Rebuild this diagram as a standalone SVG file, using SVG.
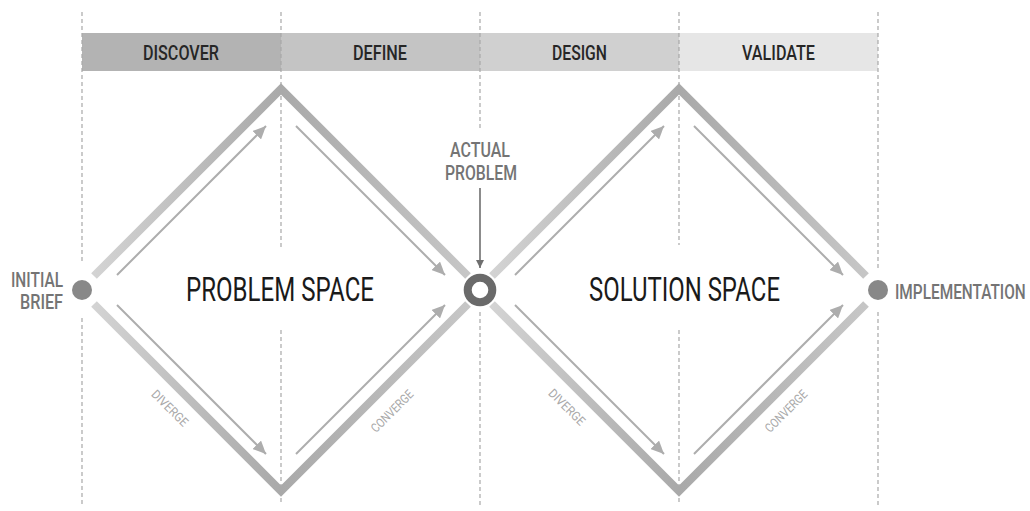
<svg xmlns="http://www.w3.org/2000/svg" width="1030" height="511" viewBox="0 0 1030 511">
<style>
.dash{stroke:#a8a8a8;stroke-width:1.2;stroke-dasharray:4 3;fill:none}
.thick{fill:none;stroke:url(#vg);stroke-width:8;stroke-linejoin:miter;stroke-miterlimit:10}
.thin{stroke:#adadad;stroke-width:2;fill:none;marker-end:url(#ah)}
.hdr{font-family:Roboto,"Liberation Sans",sans-serif;font-weight:500;font-size:19.5px;fill:#262626}
.big{font-family:Roboto,"Liberation Sans",sans-serif;font-weight:400;font-size:33px;fill:#1a1a1a}
.lbl{font-family:Roboto,"Liberation Sans",sans-serif;font-weight:500;font-size:19.5px;fill:#747474}
.sm{font-family:Roboto,"Liberation Sans",sans-serif;font-weight:400;font-size:12.5px;fill:#a8a8a8}
</style>
<defs>
<linearGradient id="vg" x1="0" y1="0" x2="1" y2="0">
<stop offset="0" stop-color="#d3d3d3"/>
<stop offset="0.5" stop-color="#a9a9a9"/>
<stop offset="1" stop-color="#c6c6c6"/>
</linearGradient>
<marker id="ah" markerUnits="userSpaceOnUse" markerWidth="14" markerHeight="12" refX="13" refY="6" orient="auto">
<path d="M0 0 L13 6 L0 12 Z" fill="#adadad"/>
</marker>
<marker id="ah2" markerUnits="userSpaceOnUse" markerWidth="9" markerHeight="8" refX="8" refY="4" orient="auto">
<path d="M0 0 L8 4 L0 8 Z" fill="#6f6f6f"/>
</marker>
</defs>
<g id="header">
<rect x="82" y="33" width="199" height="38" fill="#b3b3b3"/>
<rect x="281" y="33" width="199" height="38" fill="#c4c4c4"/>
<rect x="480" y="33" width="199" height="38" fill="#d0d0d0"/>
<rect x="679" y="33" width="199" height="38" fill="#e6e6e6"/>
<text class="hdr" x="143" y="60" textLength="76" lengthAdjust="spacingAndGlyphs">DISCOVER</text>
<text class="hdr" x="353" y="60" textLength="54" lengthAdjust="spacingAndGlyphs">DEFINE</text>
<text class="hdr" x="552" y="60" textLength="55" lengthAdjust="spacingAndGlyphs">DESIGN</text>
<text class="hdr" x="742" y="60" textLength="73" lengthAdjust="spacingAndGlyphs">VALIDATE</text>
</g>
<g id="gridlines">
<path class="dash" d="M82 12 V262 M82 318 V505 M281 12 V247 M281 330 V505 M480 12 V128 M480 312 V505 M679 12 V245 M679 330 V505 M878 12 V268 M878 312 V505"/>
</g>
<g id="connectors">
<path class="thick" d="M94 276 L281 89 L468 276"/>
<path class="thick" d="M94 304 L281 491 L468 304"/>
<path class="thick" d="M492 276 L679 89 L866 276"/>
<path class="thick" d="M492 304 L679 491 L866 304"/>
<line class="thin" x1="117" y1="275" x2="266" y2="126"/>
<line class="thin" x1="296" y1="126" x2="445" y2="275"/>
<line class="thin" x1="117" y1="305" x2="266" y2="454"/>
<line class="thin" x1="296" y1="454" x2="445" y2="305"/>
<line class="thin" x1="515" y1="275" x2="664" y2="126"/>
<line class="thin" x1="694" y1="126" x2="843" y2="275"/>
<line class="thin" x1="515" y1="305" x2="664" y2="454"/>
<line class="thin" x1="694" y1="454" x2="843" y2="305"/>
<line x1="480" y1="188" x2="480" y2="268" stroke="#6f6f6f" stroke-width="1.6" marker-end="url(#ah2)"/>
<text class="sm" transform="translate(170 408) rotate(45)" x="0" y="4.5" text-anchor="middle" textLength="46" lengthAdjust="spacingAndGlyphs">DIVERGE</text>
<text class="sm" transform="translate(392 411) rotate(-45)" x="0" y="4.5" text-anchor="middle" textLength="54" lengthAdjust="spacingAndGlyphs">CONVERGE</text>
<text class="sm" transform="translate(567 407) rotate(45)" x="0" y="4.5" text-anchor="middle" textLength="46" lengthAdjust="spacingAndGlyphs">DIVERGE</text>
<text class="sm" transform="translate(786 411) rotate(-45)" x="0" y="4.5" text-anchor="middle" textLength="54" lengthAdjust="spacingAndGlyphs">CONVERGE</text>
</g>
<g id="problem-space">
<text class="big" x="186" y="301" textLength="188" lengthAdjust="spacingAndGlyphs">PROBLEM SPACE</text>
</g>
<g id="solution-space">
<text class="big" x="589" y="301" textLength="191" lengthAdjust="spacingAndGlyphs">SOLUTION SPACE</text>
</g>
<g id="initial-brief">
<circle cx="82" cy="290" r="10" fill="#888888"/>
<text class="lbl" x="11" y="287" textLength="52" lengthAdjust="spacingAndGlyphs">INITIAL</text>
<text class="lbl" x="20" y="309" textLength="43" lengthAdjust="spacingAndGlyphs">BRIEF</text>
</g>
<g id="actual-problem">
<circle cx="480" cy="290" r="12.3" fill="none" stroke="#6a6a6a" stroke-width="8"/>
<text class="lbl" x="450" y="157" fill="#666" textLength="60" lengthAdjust="spacingAndGlyphs">ACTUAL</text>
<text class="lbl" x="445" y="180" fill="#666" textLength="72" lengthAdjust="spacingAndGlyphs">PROBLEM</text>
</g>
<g id="implementation">
<circle cx="878" cy="290" r="10" fill="#888888"/>
<text class="lbl" transform="translate(895 299) scale(0.79 1)" x="0" y="0">IMPLEMENTATION</text>
</g>
</svg>
